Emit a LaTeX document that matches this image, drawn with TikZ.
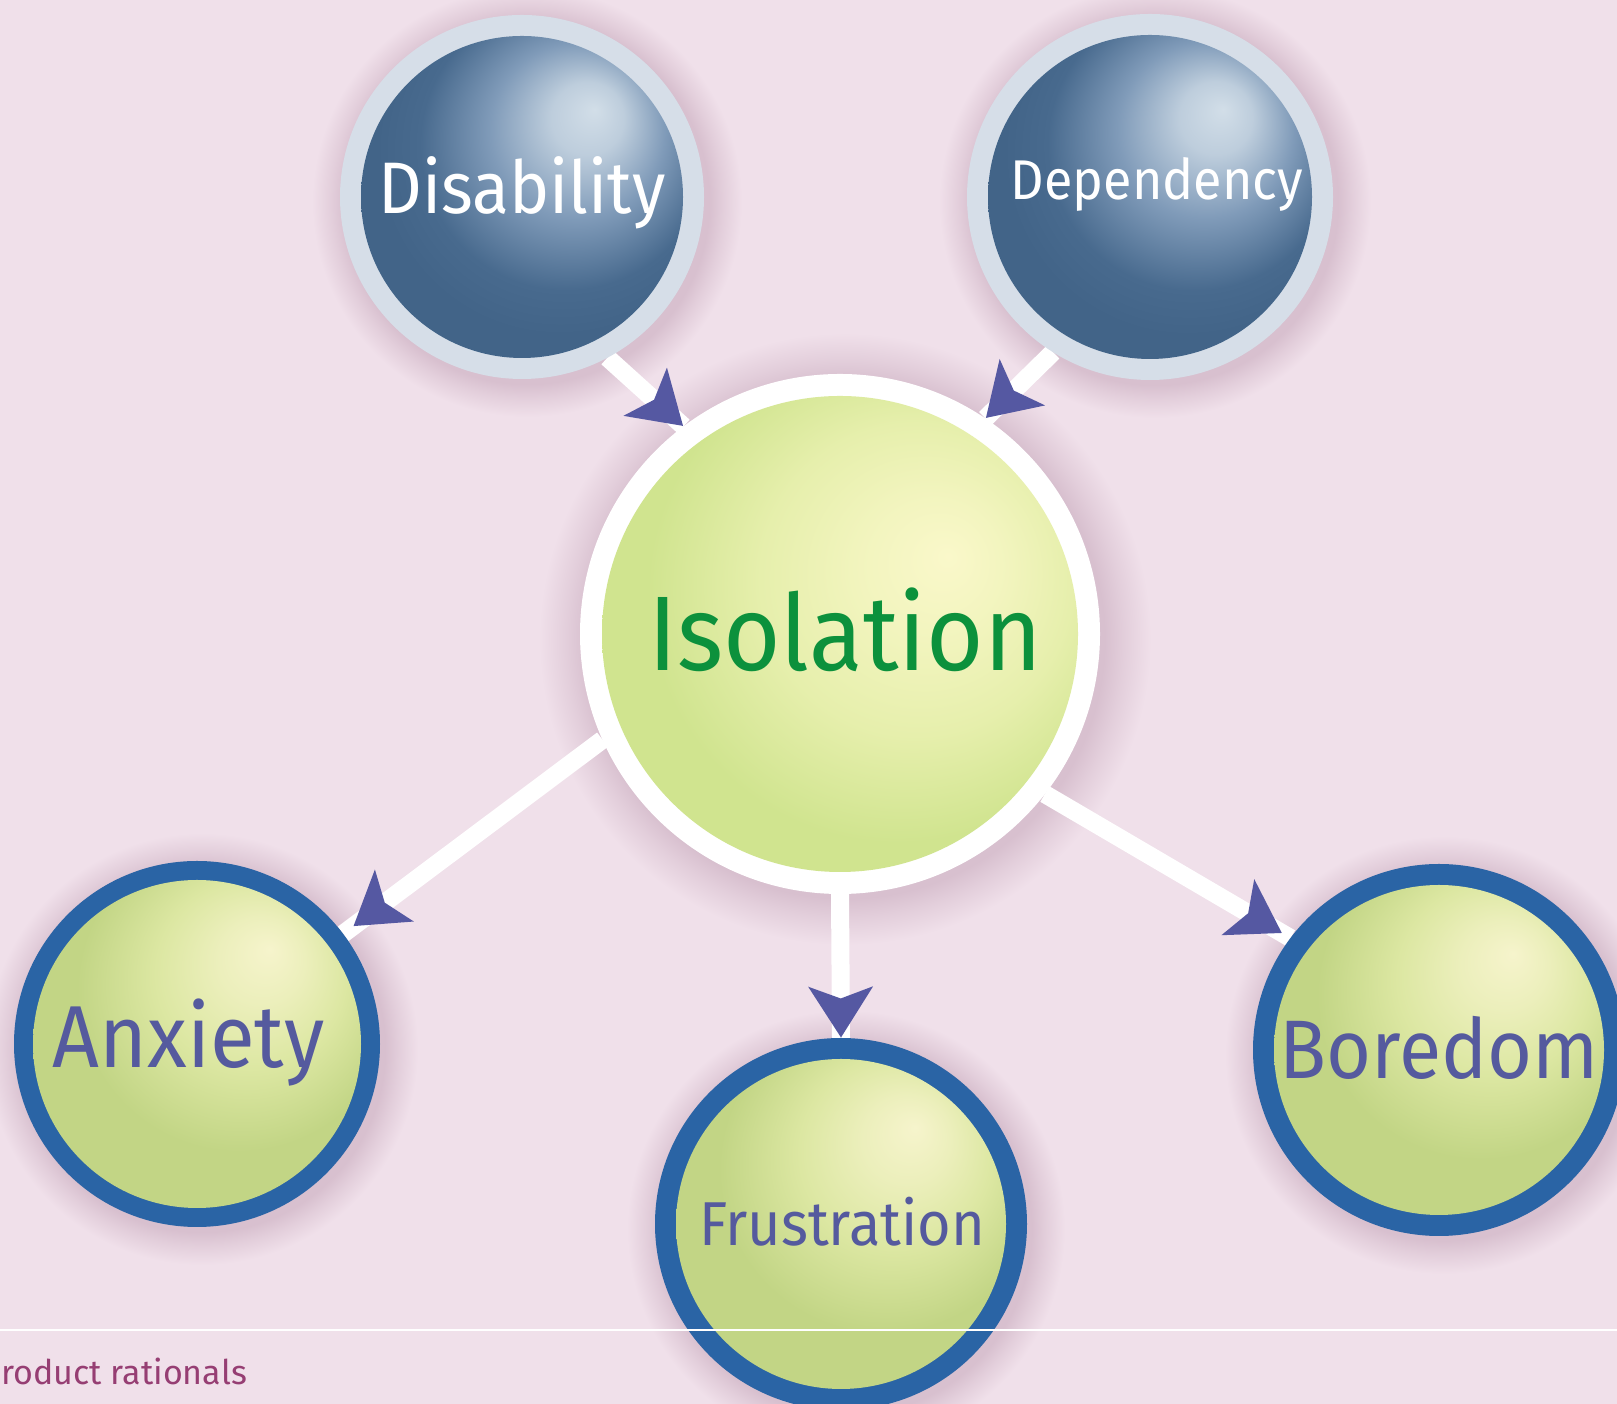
\documentclass[tikz,border=0pt]{standalone}
\usepackage{fontspec}
\setmainfont{Fira Sans}
\newfontfamily\labelfont[FakeStretch=0.93]{Fira Sans}
\usetikzlibrary{arrows.meta,decorations.markings,calc}

% palette
\definecolor{bgpink}{RGB}{240,224,234}
\definecolor{halo}{RGB}{216,192,207}
\definecolor{ringgray}{RGB}{214,222,232}
\definecolor{ringblue}{RGB}{42,100,165}
\definecolor{dkhi}{RGB}{210,222,232}
\definecolor{dkmid}{RGB}{128,155,185}
\definecolor{dkbase}{RGB}{72,106,142}
\definecolor{dkedge}{RGB}{66,100,136}
\definecolor{grhi}{RGB}{246,244,204}
\definecolor{grmid}{RGB}{220,231,162}
\definecolor{grbase}{RGB}{194,213,133}
\definecolor{isohi}{RGB}{250,248,202}
\definecolor{isomid}{RGB}{230,239,172}
\definecolor{isobase}{RGB}{208,228,143}
\definecolor{isotext}{RGB}{12,145,60}
\definecolor{lbltext}{RGB}{85,90,158}
\definecolor{tipblue}{RGB}{85,88,162}
\definecolor{footer}{RGB}{150,62,115}

% sphere and halo shadings (the rim of a shaded circle sits at 25bp)
\pgfdeclareradialshading{darksphere}{\pgfpoint{10bp}{12bp}}{color(0bp)=(dkhi); color(5bp)=(dkhi!75!dkmid); color(12bp)=(dkmid); color(20bp)=(dkbase); color(25bp)=(dkedge); color(50bp)=(dkedge)}
\pgfdeclareradialshading{greensphere}{\pgfpoint{10bp}{13bp}}{color(0bp)=(grhi); color(6bp)=(grhi!60!grmid); color(13bp)=(grmid); color(22bp)=(grbase); color(25bp)=(grbase); color(50bp)=(grbase)}
\pgfdeclareradialshading{isosphere}{\pgfpoint{10.5bp}{7.5bp}}{color(0bp)=(isohi); color(7bp)=(isohi!60!isomid); color(15bp)=(isomid); color(24bp)=(isobase); color(25bp)=(isobase); color(50bp)=(isobase)}
\pgfdeclareradialshading{halofade}{\pgfpoint{0bp}{0bp}}{color(0bp)=(halo); color(21.2bp)=(halo); color(22.8bp)=(halo!55!bgpink); color(25bp)=(bgpink); color(50bp)=(bgpink)}

\pgfdeclarelayer{back}
\pgfdeclarelayer{links}
\pgfsetlayers{back,links,main}

% shift a label by (#1)/2 horizontally and #2 vertically
\newcommand\offsettext[3]{\raisebox{#2}{\hspace*{#1}#3}}

\tikzset{
  orb/.style 2 args={circle, inner sep=0pt, outer sep=0pt, minimum size=#1, fill=#2},
  core/.style 2 args={path picture={\shade[shading=#2] (path picture bounding box.center) circle (#1);}},
  label font/.style 2 args={font=\labelfont\fontsize{#1}{#1}\selectfont, text height=#2, text depth=0pt},
  link/.style={draw=white, line width=18pt,
    postaction={decorate, decoration={markings, mark=at position #1 with
      {\arrow{Stealth[length=51pt, width=65pt, inset=12pt, line width=0pt, color=tipblue]}}}}},
}

\begin{document}
\begin{tikzpicture}[x=1pt, y=1pt]
\useasboundingbox (0,0) rectangle (1617,1404);

% circles
\node[orb={364pt}{ringgray}, core={161}{darksphere}, label font={73pt}{50pt}, text=white]
  (dis) at (522,1207) {\offsettext{0pt}{8pt}{Disability}};
\node[orb={366pt}{ringgray}, core={162}{darksphere}, label font={56pt}{39pt}, text=white]
  (dep) at (1150,1207) {\offsettext{14pt}{17pt}{Dependency}};
\node[orb={520pt}{white}, core={238}{isosphere}, label font={106pt}{73pt}, text=isotext]
  (iso) at (840,770) {\offsettext{10pt}{0pt}{Isolation}};
\node[orb={366pt}{ringblue}, core={164}{greensphere}, label font={88pt}{60pt}, text=lbltext]
  (anx) at (197,360) {\offsettext{-17pt}{6pt}{Anxiety}};
\node[orb={372pt}{ringblue}, core={165}{greensphere}, label font={62pt}{43pt}, text=lbltext]
  (fru) at (841,180) {\offsettext{2pt}{0pt}{Frustration}};
\node[orb={372pt}{ringblue}, core={165}{greensphere}, label font={83pt}{57pt}, text=lbltext]
  (bor) at (1439,354) {\offsettext{0pt}{0pt}{Boredom}};

% backdrop and soft shadows
\begin{pgfonlayer}{back}
  \fill[bgpink] (0,0) rectangle (1617,1404);
  \foreach \n/\r in {dis/215, dep/216, iso/306, anx/216, fru/219, bor/219}
    \shade[shading=halofade] ($(\n.center)+(5,-5)$) circle (\r);
\end{pgfonlayer}

% connectors
\begin{pgfonlayer}{links}
  \draw[link=-0.5pt] (dis.-62) -- (iso.127);
  \draw[link=-0.5pt] (dep.-122) -- (iso.56);
  \draw[link=-13pt] (iso.204.5) -- (anx.37);
  \draw[link=-0.5pt] (iso.270) -- (fru.90);
  \draw[link=-10pt] (iso.-38) -- (bor.143);
\end{pgfonlayer}

% footer
\coordinate (ruleL) at (0,74);
\coordinate (ruleR) at (1617,74);
\draw[white, line width=2.5pt] (ruleL) -- (ruleR);
\node[anchor=base west, inner sep=0pt, font=\fontsize{34pt}{34pt}\selectfont, text=footer]
  (foot) at (1,19) {roduct rationals};
\end{tikzpicture}
\end{document}
